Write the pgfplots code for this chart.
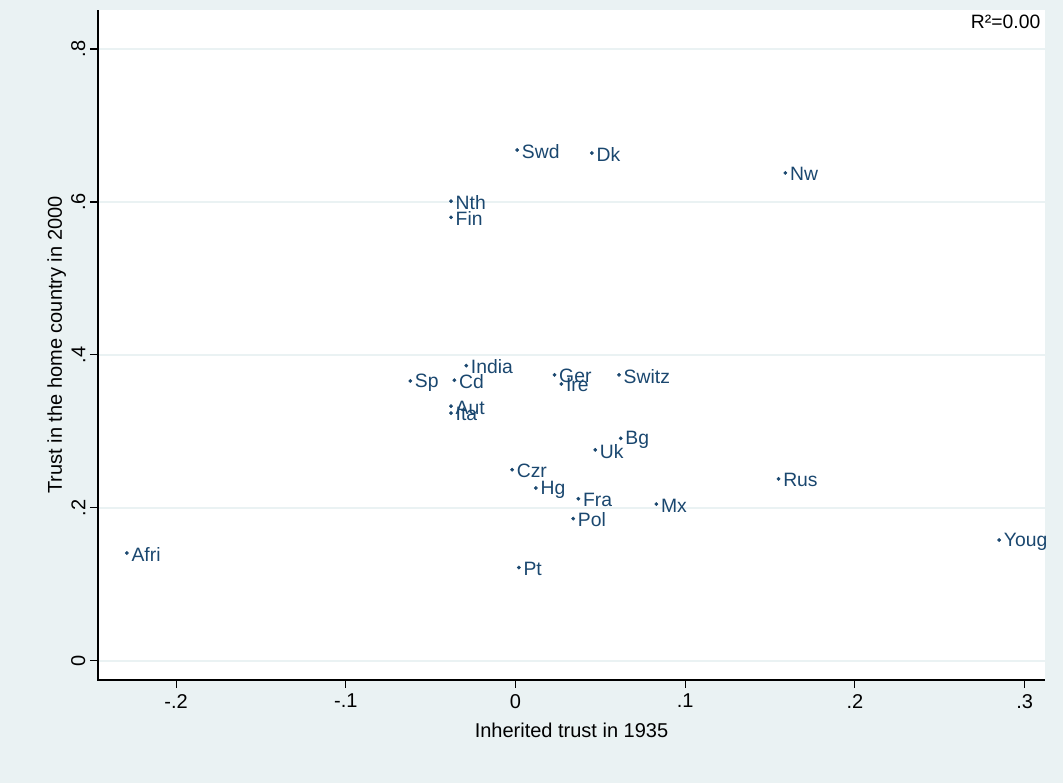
\documentclass[border=0pt]{standalone}
\usepackage{pgfplots}
\pgfplotsset{compat=1.18}
\usepackage{fontspec}
\setmainfont{Liberation Sans}
\definecolor{bg}{HTML}{EAF2F3}
\definecolor{nav}{HTML}{1A476F}
\begin{document}
\begin{tikzpicture}[x=1pt,y=1pt]
\fill[bg] (0,0) rectangle (797.25,587.25);
\begin{axis}[at={(73.5pt,77.25pt)},anchor=south west,scale only axis,
width=710.25pt,height=502.5pt,
xmin=-0.246,xmax=0.312,ymin=-0.025,ymax=0.851,
axis line style={draw=none},axis background/.style={fill=white},
xtick pos=bottom,ytick pos=left,
tick align=outside,major tick length=6pt,
major tick style={draw=black,line width=0.8pt},
axis on top,
xtick={-0.2,-0.1,0,0.1,0.2,0.3},xticklabels={-.2,-.1,0,.1,.2,.3},
ytick={0,0.2,0.4,0.6,0.8},yticklabels={0,.2,.4,.6,.8},
yticklabel style={rotate=90,anchor=south},
xticklabel style={yshift=-1pt},
ymajorgrids,grid style={color=bg,line width=1pt},
tick label style={font=\fontsize{15}{17}\selectfont},
label style={font=\fontsize{15}{17}\selectfont},
xlabel={Inherited trust in 1935},ylabel={Trust in the home country in 2000},
xlabel style={yshift=-4pt},ylabel style={yshift=-3pt},
clip=false,
after end axis/.code={
 \draw[black,line width=0.8pt] (rel axis cs:0,1) -- (rel axis cs:0,0) -- (rel axis cs:1,0);
 \node[anchor=north east,font=\fontsize{14.5}{16}\selectfont] at (rel axis cs:1,1) {R²=0.00};}]
\addplot[only marks,mark=*,mark size=1.2pt,color=nav,
nodes near coords,point meta=explicit symbolic,
every node near coord/.style={anchor=west,xshift=0pt,yshift=-1pt,color=nav,font=\fontsize{14.5}{16}\selectfont}]
table[meta=l]{
x y l
0.001 0.668 Swd
0.045 0.664 Dk
0.159 0.638 Nw
-0.038 0.601 Nth
-0.038 0.580 Fin
-0.029 0.386 India
-0.062 0.366 Sp
-0.036 0.367 Cd
0.023 0.374 Ger
0.027 0.362 Ire
0.061 0.374 Switz
-0.038 0.333 Aut
-0.038 0.324 Ita
0.062 0.291 Bg
0.047 0.276 Uk
-0.002 0.250 Czr
0.012 0.226 Hg
0.037 0.212 Fra
0.083 0.205 Mx
0.034 0.186 Pol
0.155 0.238 Rus
0.285 0.158 Youg
-0.229 0.141 Afri
0.002 0.122 Pt
};
\end{axis}
\end{tikzpicture}
\end{document}
